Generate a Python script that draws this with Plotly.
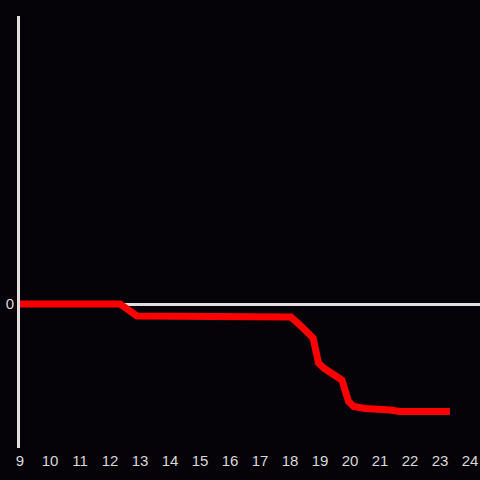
import plotly.graph_objects as go

x_vals = [9, 12.33, 12.9, 16.83, 17, 18.03, 18.33, 18.77, 18.95, 19.12, 19.73,
          19.95, 20.12, 20.5, 21.33, 21.67, 23.33]
y_vals = [0, 0, -0.083, -0.083, -0.09, -0.09, -0.146, -0.236, -0.41, -0.444, -0.528,
          -0.677, -0.712, -0.726, -0.736, -0.747, -0.747]
x_ticks = list(range(9, 25))

fig = go.Figure(go.Scatter(x=x_vals, y=y_vals, mode="lines",
                           line=dict(color="#ff0000", width=7)))
bg = "#050307"
axc = "#e0e0e0"
fig.update_layout(
    width=480, height=480, margin=dict(l=20, r=0, t=16, b=32),
    paper_bgcolor=bg, plot_bgcolor=bg, showlegend=False,
    font=dict(family="Liberation Sans, Arial, sans-serif", size=15, color="#d8d8d8"),
)
fig.update_xaxes(range=[9, 24.333], tickvals=x_ticks, ticktext=[str(t) for t in x_ticks],
                 showgrid=False, zeroline=False, showline=False, ticks="", automargin=False,
                 ticklabelstandoff=2)
fig.update_yaxes(range=[-1, 2], tickvals=[0], ticktext=["0"], showgrid=False,
                 zeroline=True, zerolinecolor=axc, zerolinewidth=3,
                 showline=True, linecolor=axc, linewidth=3, ticks="", automargin=False)
fig.write_html("out.html", config={"displayModeBar": False},
               post_script="document.body.style.margin='0';document.body.style.overflow='hidden';document.body.style.background='%s';" % bg)
